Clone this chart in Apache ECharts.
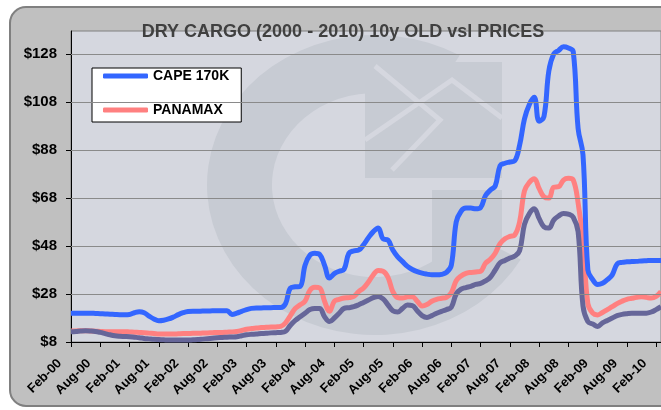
<!DOCTYPE html>
<html lang="en">
<head>
    <meta charset="UTF-8">
    <title>Dry cargo vessel prices</title>
    <style>
        html,body{
            margin: 0;
            padding: 0;
            background: #fff;
        }
        #main{
            width: 661px;
            height: 410px;
        }
    </style>
    <script src="https://cdn.jsdelivr.net/npm/echarts@6/dist/echarts.min.js"></script>
</head>
<body>
<div id="main"></div>
<script>
    // monthly, Feb-00 .. Mar-10
    var monthNames = ['Jan','Feb','Mar','Apr','May','Jun','Jul','Aug','Sep','Oct','Nov','Dec'];
    var categories = [];
    for (var i = 0; i < 122; i++) {
        var m = (1 + i) % 12;
        var y = Math.floor((1 + i) / 12);
        categories.push(monthNames[m] + '-' + (y < 10 ? '0' + y : '' + y));
    }

    var yTicks = [8, 28, 48, 68, 88, 108, 128];

    var cape = [
        20, 20, 20, 20, 20, 19.9, 19.8, 19.7, 19.6, 19.5, 19.4, 19.4,
        19.5, 20.2, 20.6, 20.2, 18.8, 17.6, 16.9, 17.1, 17.6, 18.4, 19.4, 20.2, 20.7,
        20.8, 20.8, 20.9, 20.9, 21, 21, 21,
        21, 19.5, 20, 20.8, 21.5, 22, 22.2, 22.2, 22.3, 22.3, 22.4, 22.4,
        24, 30.5, 31, 31.2, 40, 44.2, 45, 44.5, 40, 34.7, 36.5, 37.5, 38.3,
        45, 46, 46.3, 48.5, 51.5, 54, 55.5, 51, 50.5, 46.3, 43.5,
        41.5, 39.5, 38.2, 37.3, 36.7, 36.3, 36, 36, 36.2, 37, 40,
        58, 62.5, 63.8, 63.8, 63.5, 64, 69, 71.3, 73, 81.5, 82.5, 83, 83.5,
        90, 101, 107, 110, 100, 102, 121, 128, 129.5, 131, 130.5, 129,
        97, 86, 38, 34, 32, 32.5, 34, 36, 40.5, 41.2, 41.4, 41.5, 41.6, 41.8, 41.9, 42, 42, 42
    ];

    var panamax = [
        12.6, 12.6, 12.7, 12.7, 12.6, 12.5, 12.4, 12.3, 12.3, 12.3, 12.3, 12.3,
        12.2, 12.1, 12, 11.9, 11.7, 11.5, 11.3, 11.3, 11.3, 11.3, 11.4, 11.5, 11.5,
        11.6, 11.6, 11.7, 11.8, 11.9, 12, 12,
        12.1, 12.2, 12.4, 12.8, 13.3, 13.6, 13.8, 14, 14.1, 14.2, 14.3, 14.5,
        16, 19, 22, 23.5, 25, 29.5, 30.8, 30.5, 25, 20.8, 25, 25.8, 26.3,
        26.5, 27, 29, 30.5, 33, 36, 37.8, 37.5, 35, 29, 26.5,
        26.3, 26.8, 26.9, 25, 23, 23.6, 25, 25.8, 26.2, 26.6, 28.5,
        33.5, 35.5, 36.6, 37, 37.2, 37.5, 40.8, 42.5, 45, 49, 51, 52, 52.6,
        58, 71, 74.5, 76, 72, 68.5, 68, 72.5, 72.7, 75.5, 76.2, 75.5,
        66, 50, 24, 20, 19.3, 20.3, 21.5, 22.7, 24, 25, 25.8, 26.2, 26.6, 26.9, 26.6, 26.3, 27, 29
    ];

    var handy = [
        12.3, 12.4, 12.6, 12.7, 12.6, 12.4, 12, 11.5, 11, 10.6, 10.4, 10.3,
        10.2, 10, 9.8, 9.5, 9.3, 9.1, 9, 8.9, 8.8, 8.8, 8.8, 8.8, 8.8,
        8.9, 9, 9.2, 9.4, 9.6, 9.8, 9.9,
        10, 10.1, 10.2, 10.6, 11, 11.2, 11.3, 11.5, 11.6, 11.8, 11.9, 12,
        12.5, 15, 17, 18.5, 20, 21.5, 22, 22, 18.5, 16.5, 18, 20, 22,
        22.3, 22.7, 23.5, 24.5, 25.5, 26.5, 27, 26, 23.5, 21, 20.5,
        22, 23.4, 23.2, 21, 19, 18.2, 19, 20, 20.8, 21.5, 22.5,
        28, 30, 30.7, 31.2, 32, 32.4, 33.5, 35, 38, 41, 42, 43, 43.8,
        46, 57, 61.5, 63.5, 59.5, 56, 55.5, 58.8, 60.5, 61.6, 61.3, 60,
        54, 23, 16.5, 15.5, 14.5, 16, 17, 18, 19, 19.5, 19.8, 20, 20, 20, 20, 20.5, 21.5, 22.7
    ];

    var font = '"Liberation Sans", Arial, sans-serif';
    var mark = '#c7cbd3';   // watermark
    var plotBg = '#d5d7df';
    var chart = echarts.init(document.getElementById('main'));

    var option = {
        animation: false,
        title: {
            text: 'DRY CARGO (2000 - 2010) 10y OLD vsl PRICES',
            left: 343,
            top: 23,
            padding: 0,
            textAlign: 'center',
            z: 10,
            textStyle: {
                fontFamily: font,
                fontSize: 18,
                fontWeight: 'bold',
                color: '#404040'
            }
        },
        graphic: [
            {
                type: 'rect',
                z: -10,
                shape: {x: 10, y: 7, width: 700, height: 399, r: 16},
                style: {fill: '#c0c0c0', stroke: '#808080', lineWidth: 2}
            },
            {
                type: 'sector',
                z: 1,
                silent: true,
                scaleX: 1.12,
                originX: 375,
                originY: 185,
                shape: {cx: 375, cy: 185, r: 150, r0: 92, startAngle: 0.52, endAngle: 5.24, clockwise: true},
                style: {fill: mark}
            },
            {
                type: 'polygon',
                z: 1,
                silent: true,
                shape: {points: [[365, 62], [502, 62], [502, 178], [365, 178]]},
                style: {fill: mark}
            },
            {
                type: 'polyline',
                z: 1,
                silent: true,
                shape: {points: [[365, 140], [452, 80], [502, 118]]},
                style: {stroke: plotBg, lineWidth: 5, fill: null}
            },
            {
                type: 'polyline',
                z: 1,
                silent: true,
                shape: {points: [[375, 66], [440, 120], [392, 170]]},
                style: {stroke: plotBg, lineWidth: 5, fill: null}
            },
            {
                type: 'polygon',
                z: 1,
                silent: true,
                smooth: 0.3,
                shape: {points: [[432, 190], [502, 190], [502, 240], [488, 280], [455, 305], [432, 300]]},
                style: {fill: mark}
            }
        ],
        legend: {
            data: ['CAPE 170K', 'PANAMAX'],
            orient: 'vertical',
            left: 92,
            top: 68,
            padding: [0, 12, 4, 11],
            itemWidth: 45,
            itemHeight: 5,
            itemGap: 18,
            icon: 'roundRect',
            backgroundColor: '#fff',
            borderColor: '#000',
            borderWidth: 1,
            borderRadius: 0,
            textStyle: {
                fontFamily: font,
                fontSize: 14,
                fontWeight: 'bold',
                color: '#000',
                lineHeight: 16
            }
        },
        grid: {
            left: 71,
            right: 0,
            top: 31,
            bottom: 68,
            show: true,
            backgroundColor: plotBg,
            borderColor: '#808080',
            borderWidth: 1
        },
        xAxis: {
            type: 'category',
            data: categories,
            boundaryGap: false,
            axisLine: {lineStyle: {color: '#000'}},
            axisTick: {interval: 5, length: 5, lineStyle: {color: '#000'}},
            axisLabel: {
                interval: 5,
                rotate: 45,
                margin: 8,
                padding: [7, 16, 0, 0],
                fontFamily: font,
                fontSize: 13,
                fontWeight: 'bold',
                color: '#000'
            },
            splitLine: {show: false}
        },
        yAxis: {
            type: 'value',
            min: 8,
            max: 137.6,
            axisLine: {show: true, lineStyle: {color: '#000'}},
            axisTick: {show: true, length: 5, customValues: yTicks, lineStyle: {color: '#000'}},
            axisLabel: {
                customValues: yTicks,
                margin: 14,
                formatter: function (v) { return '$' + v; },
                fontFamily: font,
                fontSize: 15,
                fontWeight: 'bold',
                color: '#000'
            },
            splitLine: {show: false}
        },
        series: [
            {
                // grid lines only
                name: 'grid',
                type: 'line',
                z: 1.5,
                silent: true,
                data: cape,
                symbol: 'none',
                lineStyle: {opacity: 0},
                markLine: {
                    silent: true,
                    symbol: 'none',
                    label: {show: false},
                    lineStyle: {color: '#8a8a8a', width: 1, type: 'solid'},
                    data: yTicks.slice(1).map(function (v) { return {yAxis: v}; })
                }
            },
            {
                name: 'PANAMAX',
                type: 'line',
                data: panamax,
                smooth: 0.4,
                symbol: 'none',
                color: '#ff8080',
                lineStyle: {width: 5, color: '#ff8080'}
            },
            {
                name: 'HANDYMAX',
                type: 'line',
                data: handy,
                smooth: 0.4,
                symbol: 'none',
                color: '#666699',
                lineStyle: {width: 5, color: '#666699'}
            },
            {
                name: 'CAPE 170K',
                type: 'line',
                data: cape,
                smooth: 0.4,
                symbol: 'none',
                color: '#3366ff',
                lineStyle: {width: 5, color: '#3366ff'}
            }
        ]
    };

    chart.setOption(option);
</script>
</body>
</html>
